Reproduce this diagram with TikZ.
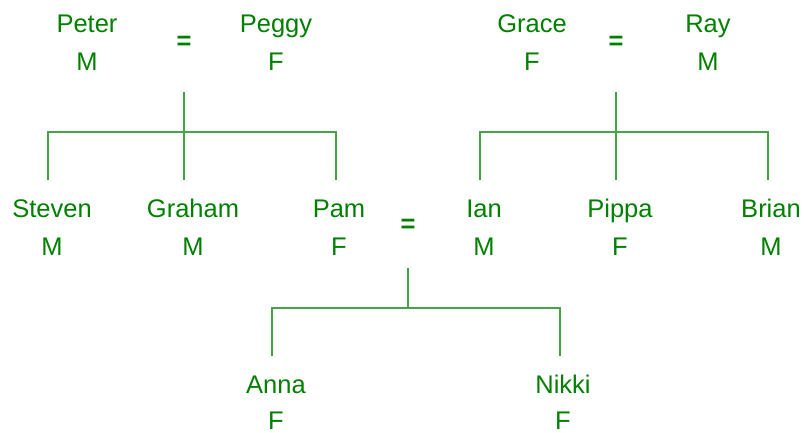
\documentclass[tikz,border=0pt]{standalone}
\usepackage{fontspec}
\setmainfont{Liberation Sans}
\definecolor{txtgreen}{RGB}{0,128,0}
\definecolor{linegreen}{RGB}{70,165,70}
\begin{document}
\begin{tikzpicture}[x=1pt,y=-1pt,
  person/.style={anchor=base,inner sep=0pt,text=txtgreen,font=\fontsize{25.5}{30}\selectfont},
  marriage/.style={person,font=\fontsize{25.5}{30}\selectfont\bfseries},
  link/.style={draw=linegreen,line width=1.2pt},
]
\useasboundingbox (0,0) rectangle (804,432);
% row 1
\node[person] (peter) at (87,32) {Peter};
\node[person] (peterg) at (87,70) {M};
\node[marriage] (eqa) at (184,49) {=};
\node[person] (peggy) at (276,32) {Peggy};
\node[person] (peggyg) at (276,70) {F};
\node[person] (grace) at (532,32) {Grace};
\node[person] (graceg) at (532,70) {F};
\node[marriage] (eqb) at (616,49) {=};
\node[person] (ray) at (708,32) {Ray};
\node[person] (rayg) at (708,70) {M};
% row 2
\node[person] (steven) at (52,217) {Steven};
\node[person] (steveng) at (52,255) {M};
\node[person] (graham) at (193,217) {Graham};
\node[person] (grahamg) at (193,255) {M};
\node[person] (pam) at (339,217) {Pam};
\node[person] (pamg) at (339,255) {F};
\node[marriage] (eqc) at (408,232) {=};
\node[person] (ian) at (484,217) {Ian};
\node[person] (iang) at (484,255) {M};
\node[person] (pippa) at (620,217) {Pippa};
\node[person] (pippag) at (620,255) {F};
\node[person] (brian) at (771,217) {Brian};
\node[person] (briang) at (771,255) {M};
% row 3
\node[person] (anna) at (276,393) {Anna};
\node[person] (annag) at (276,429) {F};
\node[person] (nikki) at (563,393) {Nikki};
\node[person] (nikkig) at (563,429) {F};
% connector points
\coordinate (a0) at (184,92);  \coordinate (a1) at (184,132);
\coordinate (al) at (48,132);  \coordinate (ar) at (336,132);
\coordinate (ad1) at (48,180); \coordinate (ad2) at (184,180); \coordinate (ad3) at (336,180);
\coordinate (b0) at (616,92);  \coordinate (b1) at (616,132);
\coordinate (bl) at (480,132); \coordinate (br) at (768,132);
\coordinate (bd1) at (480,180); \coordinate (bd2) at (616,180); \coordinate (bd3) at (768,180);
\coordinate (c0) at (408,268); \coordinate (c1) at (408,308);
\coordinate (cl) at (272,308); \coordinate (cr) at (560,308);
\coordinate (cd1) at (272,356); \coordinate (cd2) at (560,356);
% connectors
\draw[link] (a0) -- (ad2);
\draw[link] (ad1) -- (al) -- (ar) -- (ad3);
\draw[link] (b0) -- (bd2);
\draw[link] (bd1) -- (bl) -- (br) -- (bd3);
\draw[link] (c0) -- (c1);
\draw[link] (cd1) -- (cl) -- (cr) -- (cd2);
\end{tikzpicture}
\end{document}
